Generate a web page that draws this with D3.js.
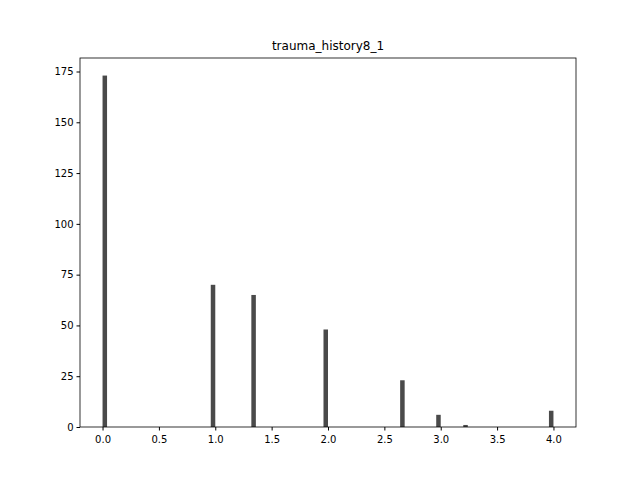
<!DOCTYPE html>
<html><head><meta charset="utf-8">
<script src="https://cdn.jsdelivr.net/npm/d3@7"></script>
<style>body{margin:0;background:#fff}text{font-family:"DejaVu Sans",sans-serif}</style>
</head><body>
<svg id="c" width="640" height="480"></svg>
<script>
// histogram bins (left edge) and counts
var binStarts = [0.0, 0.96, 1.32, 1.96, 2.64, 2.96, 3.2, 3.96];
var counts = [173, 70, 65, 48, 23, 6, 1, 8];
var binWidth = 0.04;
var xTicks = [0, 0.5, 1, 1.5, 2, 2.5, 3, 3.5, 4];
var yTicks = [0, 25, 50, 75, 100, 125, 150, 175];

var svg = d3.select('#c');
var x = d3.scaleLinear().domain([-0.2, 4.2]).range([80, 576]);
var y = d3.scaleLinear().domain([0, 181.65]).range([427, 58]);

svg.selectAll('rect.bar').data(counts).enter().append('rect')
  .attr('x', function(d, i){ return x(binStarts[i]); })
  .attr('width', function(d, i){ return x(binStarts[i] + binWidth) - x(binStarts[i]); })
  .attr('y', function(d){ return y(d); })
  .attr('height', function(d){ return y(0) - y(d); })
  .attr('fill', '#4a4a4a');

var xa = svg.append('g').attr('transform', 'translate(0,427)')
  .call(d3.axisBottom(x).tickValues(xTicks).tickFormat(d3.format('.1f')).tickSize(3.5).tickSizeOuter(0));
var ya = svg.append('g').attr('transform', 'translate(80,0)')
  .call(d3.axisLeft(y).tickValues(yTicks).tickSize(3.5).tickSizeOuter(0));
[xa, ya].forEach(function(a){
  a.select('.domain').remove();
  a.selectAll('text').attr('font-size', 10).attr('fill', '#000');
  a.selectAll('line').attr('stroke', '#000');
});
xa.selectAll('text').attr('dy', '0.9em');

svg.append('rect').attr('x', 80).attr('y', 58).attr('width', 496).attr('height', 369)
  .attr('fill', 'none').attr('stroke', '#000').attr('stroke-width', 0.8);

svg.append('text').attr('x', 328).attr('y', 50).attr('text-anchor', 'middle')
  .attr('font-size', 12).text('trauma_history8_1');
</script>
</body></html>
